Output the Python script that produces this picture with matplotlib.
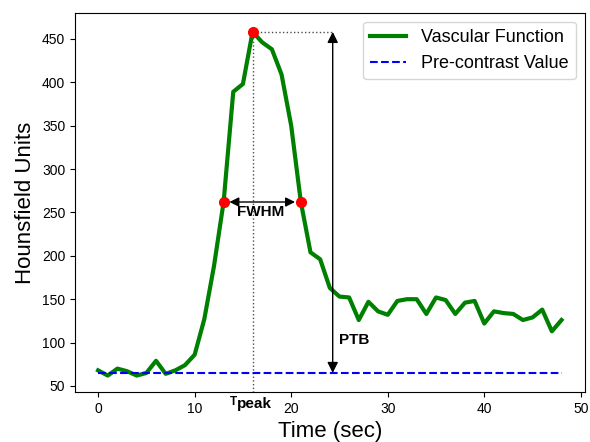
import numpy as np
import matplotlib
matplotlib.use("Agg")
import matplotlib.pyplot as plt

plt.rcParams['font.family'] = ['Liberation Sans', 'DejaVu Sans']

# time axis (sec) and measured enhancement curve (HU)
time = np.arange(0, 49)
hu = [68, 62, 70, 67, 62, 65, 79, 64, 68, 74,
      86, 127, 188, 262, 389, 398, 458, 446, 438, 409,
      350, 262, 204, 196, 163, 153, 152, 126, 147, 136,
      132, 148, 150, 150, 133, 152, 149, 133, 146, 148,
      122, 136, 134, 133, 126, 129, 138, 113, 126]
pre_contrast = 65

# annotation positions
t_half = [13, 21]
t_peak = 16
ptb_x = 24.3
fwhm_x = [13.6, 20.4]

hu = np.array(hu)
peak = hu[time == t_peak][0]
half_vals = [hu[time == t][0] for t in t_half]

fig = plt.figure(figsize=(5.9, 4.42), dpi=100)
ax = fig.add_axes([0.127, 0.113, 0.864, 0.858])

ax.plot(time, hu, color='green', lw=3, label='Vascular Function', zorder=3)
ax.plot(time, np.full(len(time), pre_contrast), '--', color='blue', lw=1.5,
        label='Pre-contrast Value', zorder=3)

# peak time and level guides
ax.plot([t_peak, t_peak], [0, peak], ':', color='0.3', lw=1, zorder=2)
ax.plot([t_peak, ptb_x], [peak, peak], ':', color='0.3', lw=1, zorder=2)

# FWHM arrow
ax.annotate('', xy=(fwhm_x[0], half_vals[0]), xytext=(fwhm_x[1], half_vals[1]),
            arrowprops=dict(arrowstyle='<|-|>', color='black', lw=1,
                            mutation_scale=14, shrinkA=0, shrinkB=0), zorder=4)
ax.text(np.mean(t_half) - 0.2, 251, 'FWHM', ha='center', va='center',
        fontsize=11, fontweight='bold', zorder=5)

# PTB arrow
ax.annotate('', xy=(ptb_x, peak), xytext=(ptb_x, pre_contrast),
            arrowprops=dict(arrowstyle='<|-|>', color='black', lw=1,
                            mutation_scale=16, shrinkA=0, shrinkB=0), zorder=4)
ax.text(ptb_x + 0.7, 103, 'PTB', ha='left', va='center',
        fontsize=11, fontweight='bold')

ax.plot(t_half, half_vals, 'o', color='red', ms=7, zorder=6)
ax.plot([t_peak], [peak], 'o', color='red', ms=7, zorder=6)

ax.set_ylim(43, 480)
ax.set_xlim(-2.4, 50.4)
ax.set_xticks([0, 10, 20, 30, 40, 50])
ax.set_yticks(np.arange(50, 451, 50))
ax.tick_params(labelsize=10)

# T_peak label under the axis
tr = ax.get_xaxis_transform()
ax.annotate('peak', xy=(t_peak, 0), xycoords=tr, xytext=(-11.3, -3.5),
            textcoords='offset points', ha='left', va='top',
            fontsize=11, fontweight='bold')
ax.annotate('T', xy=(t_peak, 0), xycoords=tr, xytext=(-16.5, -3),
            textcoords='offset points', ha='left', va='top',
            fontsize=8.5, fontweight='bold')

ax.set_xlabel('Time (sec)', fontsize=16, labelpad=4)
ax.set_ylabel('Hounsfield Units', fontsize=16, labelpad=4)
ax.legend(loc='upper right', fontsize=13)

fig.savefig('out.png', dpi=100)
